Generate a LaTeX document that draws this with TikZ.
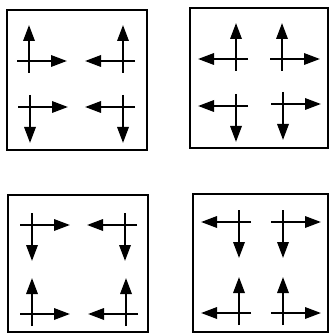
\documentclass[tikz,border=0pt]{standalone}
\usepackage{tikz}
\usetikzlibrary{arrows.meta}

\begin{document}
\begin{tikzpicture}[x=0.75pt, y=-0.75pt, line width=1.7pt,
  vec/.style={-{Triangle[length=12pt, width=8.5pt]}}]
  \useasboundingbox (0,0) rectangle (330,334);
  % the four frames
  \foreach \xa/\ya/\xb/\yb [count=\i] in {7/10/147/150, 190/8/328/148,
                                          8/195/148/332, 193/194/328/332}{
    \draw[line width=1.3pt] (\xa,\ya) coordinate (fa\i) rectangle (\xb,\yb) coordinate (fb\i);}
  % crosses: x, y, horizontal sense, vertical sense (-1 is up)
  \foreach \cx/\cy/\h/\v [count=\i] in {29/61/1/-1, 123/61/-1/-1, 30/107/1/1, 123/107/-1/1,
                                        236/59/-1/-1, 282/59/1/-1, 236/106/-1/1, 283/104/1/1,
                                        32/225/1/1, 125/225/-1/1, 32/314/1/-1, 126/314/-1/-1,
                                        239/222/-1/1, 283/222/1/1, 239/313/-1/-1, 283/313/1/-1}{
    \coordinate (c\i) at (\cx,\cy);
    \draw[vec] (c\i) ++({-12*\h},0) -- ++({50*\h},0);
    \draw[vec] (c\i) ++(0,{-12*\v}) -- ++(0,{48*\v});}
\end{tikzpicture}
\end{document}
